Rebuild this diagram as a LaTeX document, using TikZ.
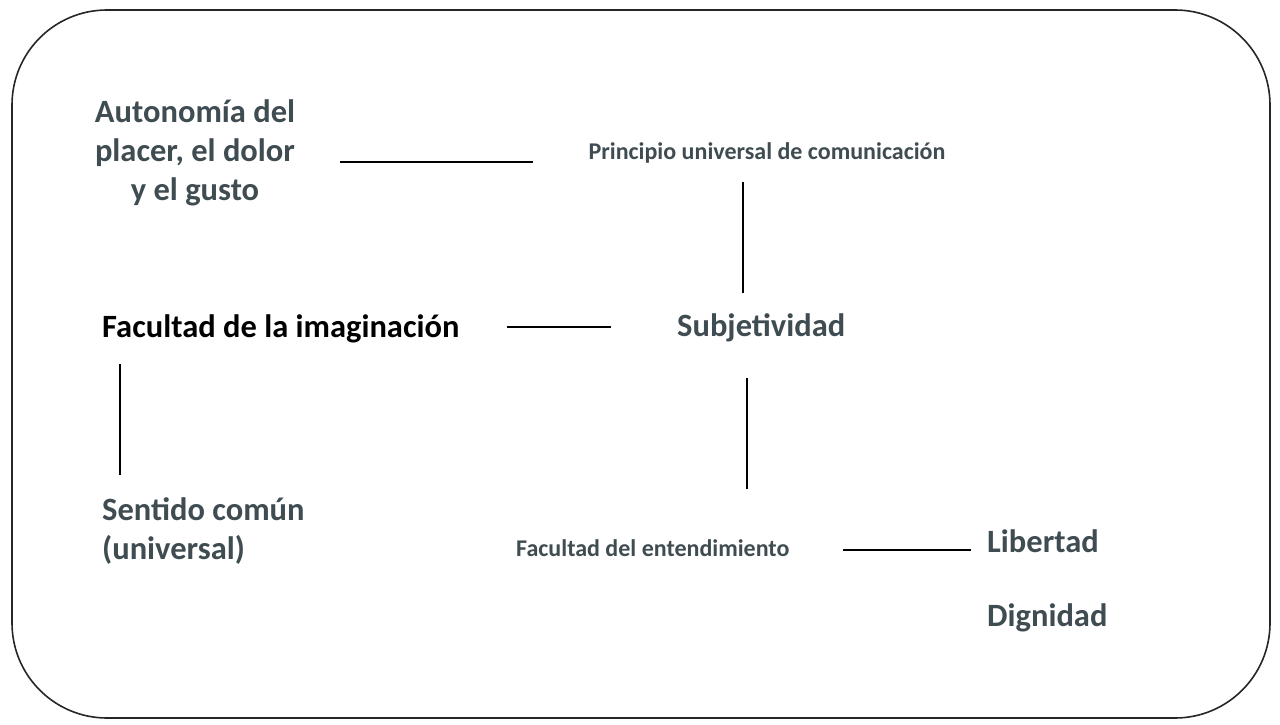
\documentclass[tikz,border=0pt]{standalone}
\usepackage{fontspec}
\setmainfont{Carlito}
\begin{document}
\begin{tikzpicture}[x=1pt,y=-1pt,
  big/.style={font=\bfseries\fontsize{32.5}{39}\selectfont,text=txt,inner sep=0pt},
  small/.style={font=\bfseries\fontsize{24}{28}\selectfont,text=txt,inner sep=0pt},
  ln/.style={line width=2.4pt,black}]
\definecolor{txt}{HTML}{3F4C51}
\useasboundingbox (0,0) rectangle (1280,725);
\fill[white] (0,0) rectangle (1280,725);
\draw[line width=1.6pt,black!85,rounded corners=95pt] (12,10) rectangle (1270,718);
\node[big,align=center] (aut) at (195,153) {Autonomía del\\placer, el dolor\\y el gusto};
\node[small] (pri) at (767,153) {Principio universal de comunicación};
\node[big,text=black,anchor=west] (fac) at (102,329) {Facultad de la imaginación};
\node[big,anchor=west] (sub) at (677,328) {Subjetividad};
\node[big,anchor=north west,align=left] (sen) at (102,497) {Sentido común\\(universal)};
\node[small,anchor=west] (ent) at (516,548) {Facultad del entendimiento};
\node[big,anchor=west] (lib) at (987,541) {Libertad};
\node[big,anchor=west] (dig) at (987,618) {Dignidad};
\coordinate (a1) at (340,162); \coordinate (a2) at (533,162);
\coordinate (b1) at (743,182); \coordinate (b2) at (743,293);
\coordinate (c1) at (507,327); \coordinate (c2) at (611,327);
\coordinate (d1) at (120,364); \coordinate (d2) at (120,475);
\coordinate (e1) at (747,378); \coordinate (e2) at (747,489);
\coordinate (f1) at (843,550); \coordinate (f2) at (971,550);
\draw[ln] (a1)--(a2); \draw[ln] (b1)--(b2); \draw[ln] (c1)--(c2);
\draw[ln] (d1)--(d2); \draw[ln] (e1)--(e2); \draw[ln] (f1)--(f2);
\end{tikzpicture}
\end{document}
